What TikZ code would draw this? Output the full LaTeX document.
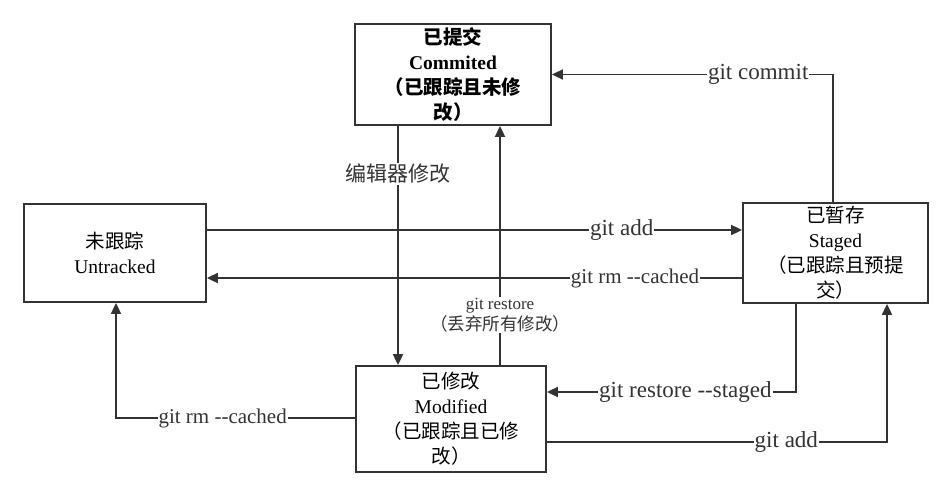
\documentclass[tikz,border=0pt]{standalone}
\usepackage{fontspec}
\setmainfont{Liberation Serif}
\newfontfamily\cjk{Noto Sans CJK SC}
\newcommand{\zh}[1]{{\cjk #1}}
\usetikzlibrary{arrows.meta}
\definecolor{ink}{HTML}{333333}
\tikzset{
  box/.style={draw=ink, line width=1.8pt, fill=white, align=center, inner sep=0pt,
    font=\fontsize{19.5}{25}\selectfont},
  conn/.style={draw=ink, line width=1.8pt, -{Triangle[length=11pt,width=10pt]}},
  lbl/.style={fill=white, inner sep=1pt, text=ink, font=\fontsize{23}{25}\selectfont},
}
\begin{document}
\begin{tikzpicture}[x=1pt,y=-1pt]
\useasboundingbox[fill=white] (0,0) rectangle (952,498);
% boxes
\node[box, minimum width=196pt, minimum height=101pt] (com) at (453,74.5)
  {\bfseries\zh{已提交}\\ \bfseries Commited\\ \bfseries\zh{（已跟踪且未修}\\ \bfseries\zh{改）}};
\node[box, minimum width=182pt, minimum height=98pt] (unt) at (115,253)
  {\zh{未跟踪}\\ Untracked};
\node[box, minimum width=185pt, minimum height=100pt] (stg) at (835.5,253)
  {\zh{已暂存}\\ Staged\\ \zh{（已跟踪且预提}\\ \zh{交）}};
\node[box, minimum width=190pt, minimum height=106pt] (mod) at (451,419)
  {\zh{已修改}\\ Modified\\ \zh{（已跟踪且已修}\\ \zh{改）}};
% helper coordinates
\coordinate (c1) at (398,0);
\coordinate (c2) at (500,0);
\coordinate (c3) at (0,230);
\coordinate (c4) at (0,278);
\coordinate (c5) at (0,418);
\coordinate (c6) at (116,0);
\coordinate (c7) at (796,0);
\coordinate (c8) at (0,392);
\coordinate (c9) at (0,442);
\coordinate (c10) at (887,0);
\coordinate (c11) at (833,0);
% connectors
\draw[conn] (stg.north -| c11) |- node[lbl, pos=0.633] {git commit} (com.east);
\draw[conn] (com.south -| c1) -- node[lbl, pos=0.2, font=\fontsize{21}{22}\selectfont] {\zh{编辑器修改}} (mod.north -| c1);
\draw[conn] (mod.north -| c2) -- node[lbl, pos=0.21, align=center, font=\fontsize{17}{21}\selectfont] {git restore\\ {\fontsize{17.5}{21}\selectfont\zh{（丢弃所有修改）}}} (com.south -| c2);
\draw[conn] (unt.east |- c3) -- node[lbl, pos=0.775] {git add} (stg.west |- c3);
\draw[conn] (stg.west |- c4) -- node[lbl, pos=0.2, font=\fontsize{21}{23}\selectfont] {git rm -{}-cached} (unt.east |- c4);
\draw[conn] (mod.west |- c5) -| node[lbl, pos=0.277, font=\fontsize{21}{23}\selectfont] {git rm -{}-cached} (unt.south -| c6);
\draw[conn] (stg.south -| c7) |- node[lbl, pos=0.722] {git restore -{}-staged} (mod.east |- c8);
\draw[conn] (mod.east |- c9) -| node[lbl, pos=0.352] {git add} (stg.south -| c10);
\end{tikzpicture}
\end{document}
